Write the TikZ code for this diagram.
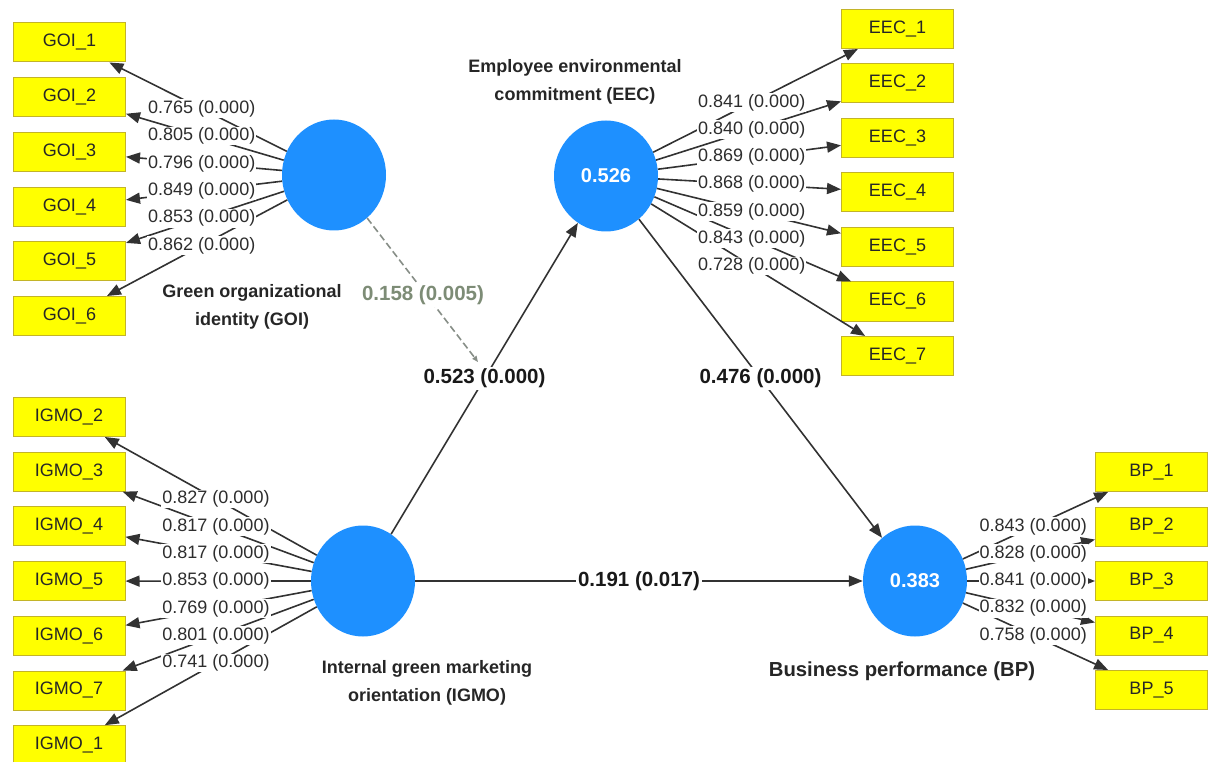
\documentclass[tikz,border=0pt]{standalone}
\usepackage{fontspec}
\setmainfont{Liberation Sans}
\usetikzlibrary{arrows.meta,calc,shapes.geometric}
\definecolor{lvblue}{RGB}{30,144,255}
\definecolor{indyel}{RGB}{255,255,0}
\definecolor{indbrd}{RGB}{195,180,40}
\definecolor{lngray}{RGB}{50,50,50}
\definecolor{modgray}{RGB}{135,142,135}
\definecolor{modtxt}{RGB}{125,140,118}
\definecolor{ldtxt}{RGB}{45,45,45}
\begin{document}
\begin{tikzpicture}[x=1pt,y=-1pt,
  ind/.style={rectangle,draw=indbrd,line width=1pt,fill=indyel,minimum width=112pt,minimum height=39pt,inner sep=0pt,font=\fontsize{18}{20}\selectfont,text=black!85},
  lv/.style={ellipse,fill=lvblue,minimum width=104pt,minimum height=111pt,inner sep=0pt,font=\fontsize{20}{22}\selectfont\bfseries,text=white},
  arr/.style={draw=lngray,line width=1.6pt,-{Triangle[length=14pt,width=11pt]}},
  modline/.style={draw=modgray,line width=1.6pt,dash pattern=on 7pt off 3.5pt,-{Triangle[length=6pt,width=5pt]}},
  ld/.style={fill=white,inner sep=1pt,font=\fontsize{18}{20}\selectfont,text=ldtxt},
  pc/.style={fill=white,inner sep=2pt,font=\fontsize{20.5}{22}\selectfont\bfseries,text=black!90},
  nm/.style={align=center,font=\fontsize{18}{27.5}\selectfont\bfseries,text=black!85},
]
\useasboundingbox (0,0) rectangle (1208,762);

% latent variables
\node[lv] (goi) at (334,175) {};
\node[lv] (eec) at (606,176) {0.526};
\node[lv] (igmo) at (363,581) {};
\node[lv] (bp) at (915,581) {0.383};

% indicators
\foreach \n/\yy in {1/42.5,2/97.2,3/151.9,4/206.6,5/261.3,6/316}
  \node[ind] (g\n) at (69.5,\yy) {GOI\_\n};
\foreach \n/\yy in {2/417,3/471.7,4/526.4,5/581.1,6/635.8,7/690.5,1/745.2}
  \node[ind] (i\n) at (69,\yy) {IGMO\_\n};
\foreach \n/\yy in {1/29,2/83.5,3/138,4/192.5,5/247,6/301.5,7/356}
  \node[ind] (e\n) at (897.5,\yy) {EEC\_\n};
\foreach \n/\yy in {1/472,2/526.5,3/581,4/635.5,5/690}
  \node[ind] (b\n) at (1151.5,\yy) {BP\_\n};

% outer loadings: connectors
\foreach \n in {1,...,6} \draw[arr] (goi) -- (g\n);
\foreach \n in {1,...,7} \draw[arr] (igmo) -- (i\n);
\foreach \n in {1,...,7} \draw[arr] (eec) -- (e\n);
\foreach \n in {1,...,5} \draw[arr] (bp) -- (b\n);

% structural paths
\draw[arr] (igmo) -- (eec);
\draw[arr] (eec) -- (bp);
\draw[arr] (igmo) -- (bp);
\coordinate (mod) at (478,362);
\draw[modline] (goi) -- (mod);

% loading labels
\foreach \n/\v in {1/0.765,2/0.805,3/0.796,4/0.849,5/0.853,6/0.862}
  \node[ld] (lg\n) at ($(goi)!0.5!(g\n)$) {\v\ (0.000)};
\foreach \n/\v in {2/0.827,3/0.817,4/0.817,5/0.853,6/0.769,7/0.801,1/0.741}
  \node[ld] (li\n) at ($(igmo)!0.5!(i\n)$) {\v\ (0.000)};
\foreach \n/\v in {1/0.841,2/0.840,3/0.869,4/0.868,5/0.859,6/0.843,7/0.728}
  \node[ld] (le\n) at ($(eec)!0.5!(e\n)$) {\v\ (0.000)};
\foreach \n/\v in {1/0.843,2/0.828,3/0.841,4/0.832,5/0.758}
  \node[ld] (lb\n) at ($(bp)!0.5!(b\n)$) {\v\ (0.000)};

% path coefficients
\node[pc] (p1) at ($(igmo)!0.5!(eec)$) {0.523 (0.000)};
\node[pc] (p2) at ($(eec)!0.5!(bp)$) {0.476 (0.000)};
\node[pc] (p3) at ($(igmo)!0.5!(bp)$) {0.191 (0.017)};
\node[pc,text=modtxt] (p4) at (423,295) {0.158 (0.005)};

% construct names
\node[nm] (eecn) at (575,82) {Employee environmental\\commitment (EEC)};
\node[nm] (goin) at (252,307) {Green organizational\\identity (GOI)};
\node[nm] (igmon) at (427,683) {Internal green marketing\\orientation (IGMO)};
\node[nm,font=\fontsize{20.3}{24}\selectfont\bfseries] (bpn) at (902,671) {Business performance (BP)};
\end{tikzpicture}
\end{document}
